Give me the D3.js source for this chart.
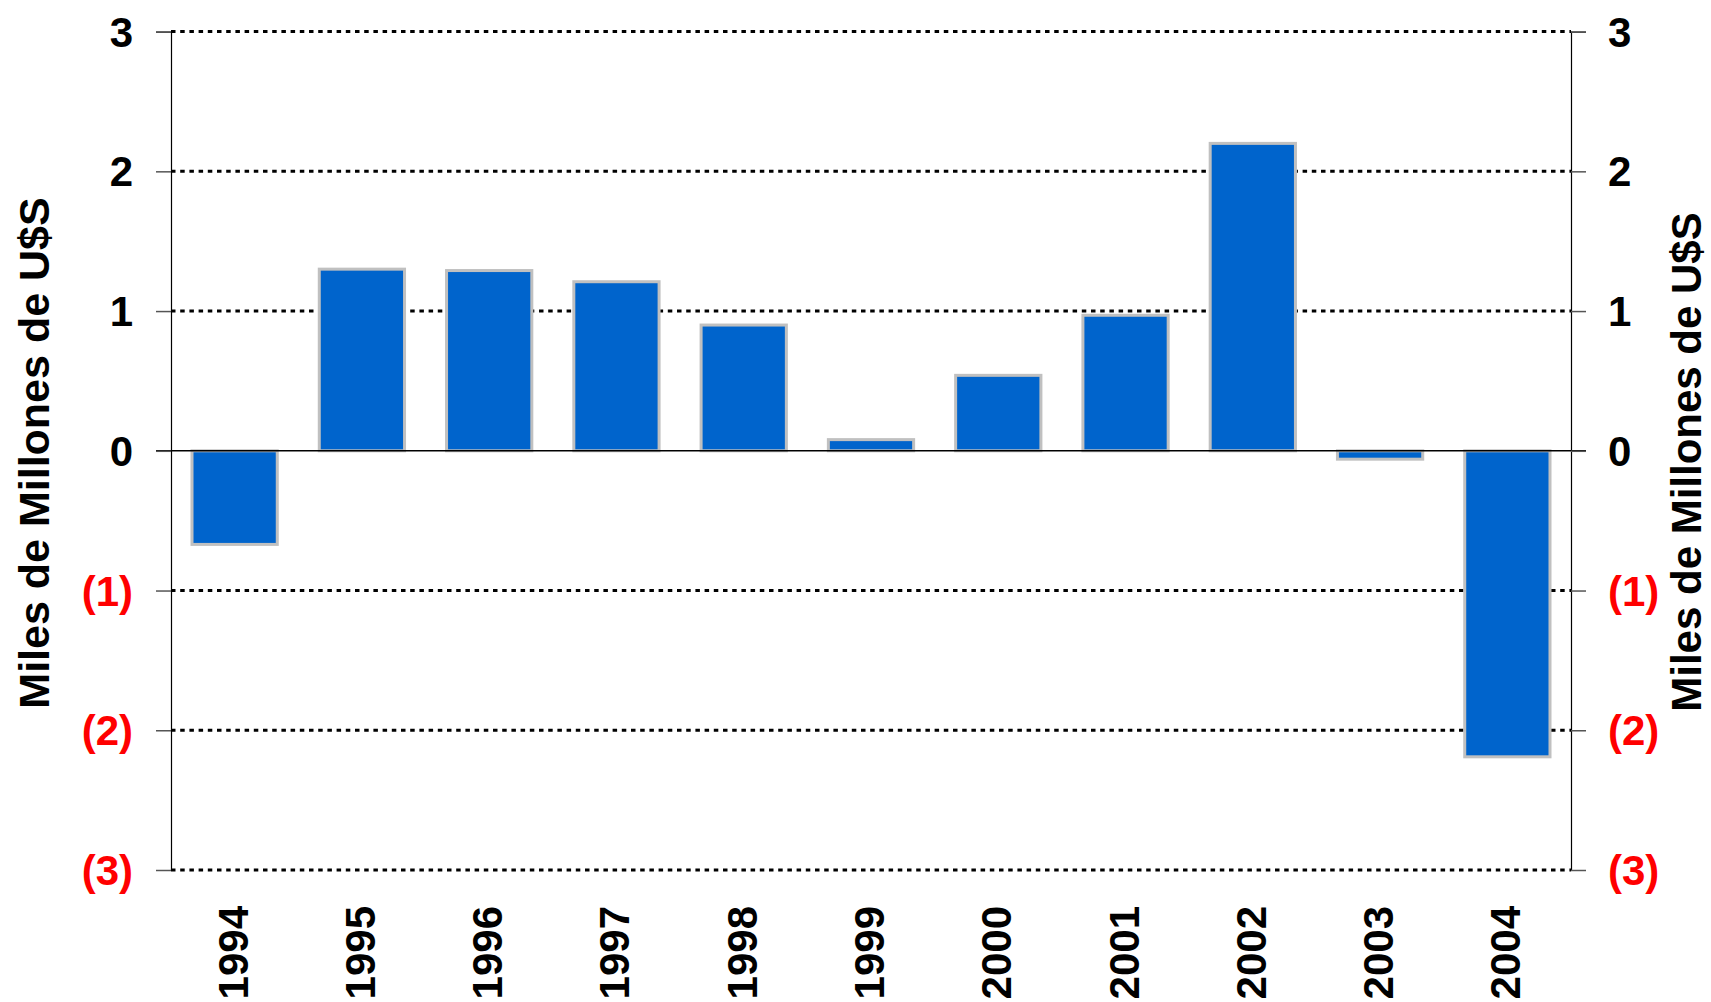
<!DOCTYPE html>
<html><head><meta charset="utf-8">
<script src="https://cdn.jsdelivr.net/npm/d3@7"></script>
<style>
html,body{margin:0;padding:0;background:#fff;}
svg{display:block;}
text{font-family:"Liberation Sans",Arial,sans-serif;font-weight:bold;}
</style></head>
<body>
<svg id="chart" width="1711" height="1002"></svg>
<script>
const years = ["1994","1995","1996","1997","1998","1999","2000","2001","2002","2003","2004"];
const values = [-0.67, 1.30, 1.29, 1.21, 0.90, 0.08, 0.54, 0.97, 2.20, -0.06, -2.19];
const tickValues = [3, 2, 1, 0, -1, -2, -3];
const tickLabels = ["3", "2", "1", "0", "(1)", "(2)", "(3)"];
const axisTitle = "Miles de Millones de U$S";

const svg = d3.select("#chart");
const plotLeft = 171, plotRight = 1571, plotTop = 31.6, plotBottom = 870;

const x = d3.scaleBand().domain(years).range([plotLeft, plotRight]).paddingInner(0.33).paddingOuter(0.165);
const y = d3.scaleLinear().domain([-3, 3]).range([plotBottom, plotTop]);

// gridlines
svg.append("g").selectAll("line").data(tickValues.filter(v => v !== 0)).join("line")
  .attr("x1", plotLeft).attr("x2", plotRight)
  .attr("y1", d => y(d)).attr("y2", d => y(d))
  .attr("stroke", "#000").attr("stroke-width", 3).attr("stroke-dasharray", "4.5,4.7");

// bars
svg.append("g").selectAll("rect").data(values).join("rect")
  .attr("x", (d, i) => x(years[i]))
  .attr("width", x.bandwidth())
  .attr("y", d => y(Math.max(0, d)))
  .attr("height", d => Math.abs(y(d) - y(0)))
  .attr("fill", "#0064CC")
  .attr("stroke", "#C0C0C0").attr("stroke-width", 3);

// zero line
svg.append("line").attr("x1", plotLeft - 15).attr("x2", plotRight + 15)
  .attr("y1", y(0)).attr("y2", y(0)).attr("stroke", "#000").attr("stroke-width", 1.5);

// axes
const yl = d3.axisLeft(y).tickValues(tickValues).tickSize(15).tickFormat("");
const yr = d3.axisRight(y).tickValues(tickValues).tickSize(15).tickFormat("");
const gl = svg.append("g").attr("transform", `translate(${plotLeft},0)`).call(yl);
const gr = svg.append("g").attr("transform", `translate(${plotRight},0)`).call(yr);
[gl, gr].forEach(g => {
  g.select(".domain").attr("stroke", "#000").attr("stroke-width", 1.2);
  g.selectAll(".tick line").attr("stroke", "#555").attr("stroke-width", 1.5);
});

// tick labels
const labelColor = v => v < 0 ? "#FF0000" : "#000";
svg.append("g").selectAll("text").data(tickValues).join("text")
  .attr("x", 133).attr("y", d => y(d)).attr("dy", "0.36em")
  .attr("text-anchor", "end").attr("font-size", 42)
  .attr("fill", labelColor).text((d, i) => tickLabels[i]);
svg.append("g").selectAll("text").data(tickValues).join("text")
  .attr("x", 1608).attr("y", d => y(d)).attr("dy", "0.36em")
  .attr("text-anchor", "start").attr("font-size", 42)
  .attr("fill", labelColor).text((d, i) => tickLabels[i]);

// x labels
svg.append("g").selectAll("text").data(years).join("text")
  .attr("transform", d => `translate(${x(d) + x.bandwidth() / 2 + 13},906) rotate(-90)`)
  .attr("text-anchor", "end").attr("font-size", 42).attr("fill", "#000").text(d => d);

// axis titles
svg.append("text").attr("transform", "translate(49,453) rotate(-90)")
  .attr("text-anchor", "middle").attr("font-size", 43).attr("fill", "#000").text(axisTitle);
svg.append("text").attr("transform", "translate(1701,462) rotate(-90)")
  .attr("text-anchor", "middle").attr("font-size", 42).attr("fill", "#000").text(axisTitle);
</script>
</body></html>
